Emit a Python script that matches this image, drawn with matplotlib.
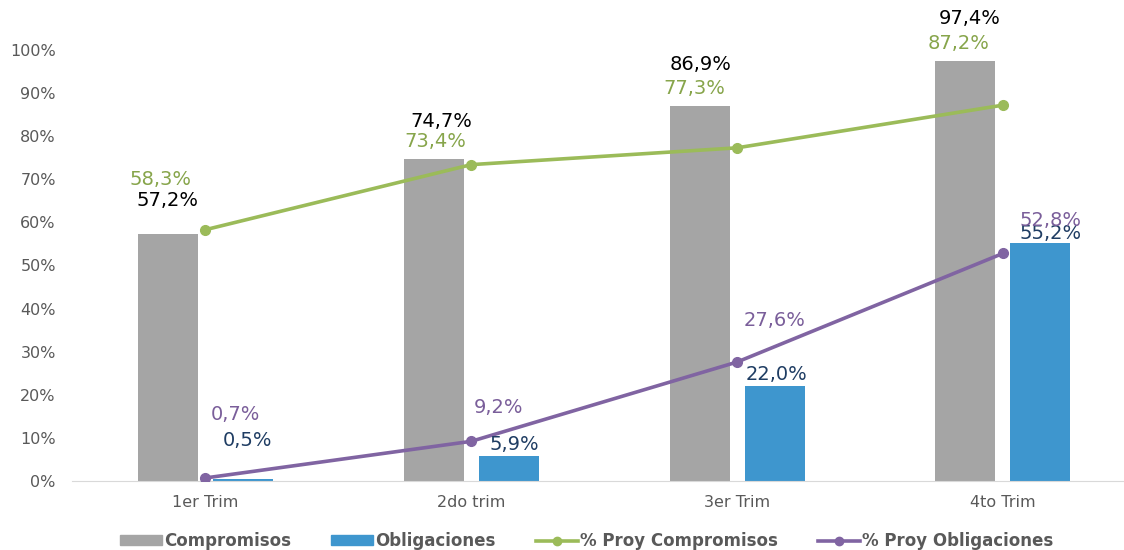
import matplotlib.pyplot as plt
from matplotlib.lines import Line2D
from matplotlib.patches import Patch
import numpy as np

plt.rcParams["font.family"] = ["DejaVu Sans"]

# data
trimestres = ["1er Trim", "2do trim", "3er Trim", "4to Trim"]
compromisos = [57.2, 74.7, 86.9, 97.4]
obligaciones = [0.5, 5.9, 22.0, 55.2]
proy_compromisos = [58.3, 73.4, 77.3, 87.2]
proy_obligaciones = [0.7, 9.2, 27.6, 52.8]

# colours
c_gray = "#A5A5A5"
c_blue = "#3E96CE"
c_green = "#9BBB59"
c_purple = "#8064A2"

# label offsets (pixels) as placed in the original
off_comp = [(0, 34), (8, 38), (1, 42), (4, 43)]
off_oblig = [(5, 38), (6, 11), (2, 12), (10, 10)]
off_pc = [(-45, 50), (-36, 23), (-43, 59), (-44, 62)]
off_po = [(30, 63), (27, 34), (37, 42), (48, 33)]


def fmt(v):
    return f"{v:.1f}%".replace(".", ",")


fig = plt.figure(figsize=(11.24, 5.5), dpi=100)
ax = fig.add_axes([0.0645, 0.1255, 0.946, 0.7836])

x = np.arange(len(trimestres))
w = 0.226
shift = 0.141

ax.bar(x - shift, compromisos, w, color=c_gray, zorder=2)
ax.bar(x + shift, obligaciones, w, color=c_blue, zorder=2)
ax.plot(x, proy_compromisos, color=c_green, lw=2.6, marker="o", ms=7, zorder=3)
ax.plot(x, proy_obligaciones, color=c_purple, lw=2.6, marker="o", ms=7, zorder=3)

ax.set_xlim(-0.5, 3.5)
ax.set_ylim(0, 100)
ax.set_yticks(range(0, 101, 10))
ax.set_yticklabels([f"{v}%" for v in range(0, 101, 10)])
ax.set_xticks(x)
ax.set_xticklabels(trimestres)
ax.tick_params(axis="both", length=0, labelsize=11.5, colors="#595959")
ax.tick_params(axis="x", pad=10)
ax.tick_params(axis="y", pad=12)
for s in ["top", "right", "left"]:
    ax.spines[s].set_visible(False)
ax.spines["bottom"].set_color("#D9D9D9")

lab_kw = dict(textcoords="offset pixels", ha="center", va="center",
              fontsize=14, annotation_clip=False)
for i in range(len(x)):
    ax.annotate(fmt(compromisos[i]), (x[i] - shift, compromisos[i]),
                xytext=off_comp[i], color="#000000", **lab_kw)
    ax.annotate(fmt(obligaciones[i]), (x[i] + shift, obligaciones[i]),
                xytext=off_oblig[i], color="#1F3D63", **lab_kw)
    ax.annotate(fmt(proy_compromisos[i]), (x[i], proy_compromisos[i]),
                xytext=off_pc[i], color="#87A54B", **lab_kw)
    ax.annotate(fmt(proy_obligaciones[i]), (x[i], proy_obligaciones[i]),
                xytext=off_po[i], color="#7A5E9A", **lab_kw)

handles = [
    Patch(color=c_gray),
    Patch(color=c_blue),
    Line2D([], [], color=c_green, lw=2.6, marker="o", ms=6),
    Line2D([], [], color=c_purple, lw=2.6, marker="o", ms=6),
]
labels = ["Compromisos", "Obligaciones", "% Proy Compromisos", "% Proy Obligaciones"]
leg = fig.legend(handles, labels, loc="center", bbox_to_anchor=(0.522, 0.016),
                 ncol=4, frameon=False, handlelength=2.5, handleheight=0.55,
                 handletextpad=0.15, columnspacing=2.4,
                 prop={"weight": "bold", "size": 12})
for t in leg.get_texts():
    t.set_color("#595959")

fig.savefig("out.png", dpi=100)
